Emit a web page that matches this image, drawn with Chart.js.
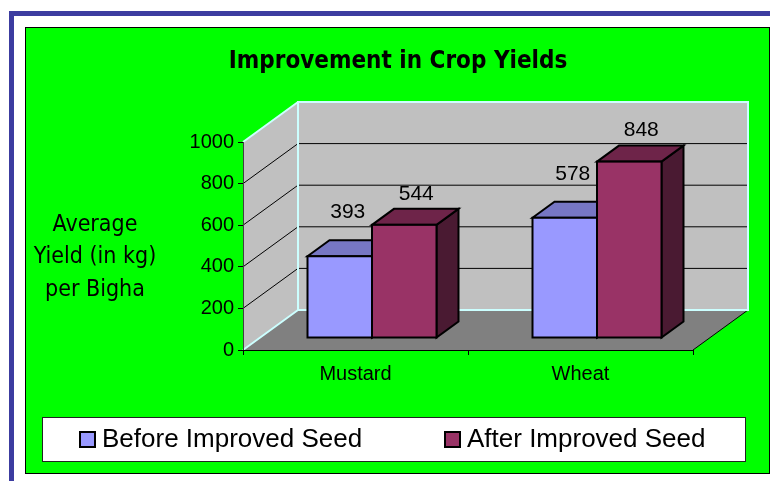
<!DOCTYPE html>
<html><head><meta charset="utf-8">
<script src="https://cdn.jsdelivr.net/npm/chart.js@4/dist/chart.umd.min.js"></script>
<style>html,body{margin:0;padding:0;background:#fff;overflow:hidden}canvas{display:block}</style>
</head><body>
<canvas id="c" width="770" height="481"></canvas>
<script>
// ---- data ----
const categories = ['Mustard', 'Wheat'];
const beforeValues = [393, 578];
const afterValues = [544, 848];
const seriesNames = ['Before Improved Seed', 'After Improved Seed'];
const yTicks = [0, 200, 400, 600, 800, 1000];
const chartTitle = 'Improvement in Crop Yields';
const yAxisTitle = ['Average', 'Yield (in kg)', 'per Bigha'];

// ---- styling ----
const DEPTH_X = 55, DEPTH_Y = -40;      // wall depth
const BAR_OFF_X = 16.5, BAR_OFF_Y = -12; // bar front face inset
const BAR_DX = 22, BAR_DY = -16;         // bar depth
const TAHOMA = 'Tahoma, "DejaVu Sans Condensed", "DejaVu Sans", sans-serif';
const ARIAL = 'Arial, "Liberation Sans", sans-serif';

const threeD = {
  id: 'threeD',
  beforeDraw(chart) {
    const ctx = chart.ctx;
    ctx.save();
    ctx.fillStyle = '#ffffff';
    ctx.fillRect(0, 0, chart.width, chart.height);
    // blue page frame
    ctx.fillStyle = '#3c3ca0';
    ctx.fillRect(9, 11, 761, 5);
    ctx.fillRect(9, 11, 5, 470);
    // green chart area box
    ctx.fillStyle = '#00ff00';
    ctx.fillRect(25, 27, 745, 446);
    ctx.strokeStyle = '#000';
    ctx.lineWidth = 1;
    ctx.strokeRect(25.5, 27.5, 744, 446);
    // legend box
    ctx.fillStyle = '#fff';
    ctx.fillRect(42, 417, 704, 45);
    ctx.strokeStyle = '#222';
    ctx.strokeRect(42.5, 417.5, 703, 44);
    // title
    ctx.fillStyle = '#000';
    ctx.textAlign = 'center';
    ctx.textBaseline = 'middle';
    ctx.font = 'bold 24px ' + TAHOMA;
    ctx.fillText(chartTitle, 398, 62);
    // y axis title
    ctx.font = '23px ' + TAHOMA;
    yAxisTitle.forEach((t, i) => ctx.fillText(t, 95, 225 + i * 32.5));

    // 3D walls
    const ys = chart.scales.y, a = chart.chartArea;
    const L = a.left, R = a.right;
    const T = ys.getPixelForValue(yTicks[yTicks.length - 1]);
    const B = ys.getPixelForValue(yTicks[0]);
    const dx = DEPTH_X, dy = DEPTH_Y;
    // floor
    ctx.fillStyle = '#808080';
    ctx.beginPath();
    ctx.moveTo(L, B); ctx.lineTo(L + dx, B + dy); ctx.lineTo(R + dx, B + dy); ctx.lineTo(R, B);
    ctx.closePath(); ctx.fill();
    // left wall
    ctx.fillStyle = '#c0c0c0';
    ctx.beginPath();
    ctx.moveTo(L, B); ctx.lineTo(L, T); ctx.lineTo(L + dx, T + dy); ctx.lineTo(L + dx, B + dy);
    ctx.closePath(); ctx.fill();
    // back wall
    ctx.fillRect(L + dx, T + dy, R - L, B - T);
    // gridlines
    ctx.strokeStyle = '#000';
    ctx.lineWidth = 1;
    yTicks.slice(1, -1).forEach(v => {
      const py = ys.getPixelForValue(v);
      ctx.beginPath();
      ctx.moveTo(L, py); ctx.lineTo(L + dx, py + dy); ctx.lineTo(R + dx, py + dy);
      ctx.stroke();
    });
    // floor front-right edge
    ctx.beginPath();
    ctx.moveTo(R, B); ctx.lineTo(R + dx, B + dy); ctx.stroke();
    // cyan wall edges
    ctx.strokeStyle = '#ccffff';
    ctx.lineWidth = 2;
    ctx.beginPath();
    ctx.moveTo(L, T); ctx.lineTo(L + dx, T + dy);
    ctx.moveTo(L, B); ctx.lineTo(L + dx, B + dy);
    ctx.stroke();
    ctx.strokeRect(L + dx, T + dy, R - L, B - T);
    ctx.restore();
  },
  beforeDatasetsDraw(chart) {
    const ctx = chart.ctx;
    ctx.save();
    ctx.lineWidth = 2;
    ctx.strokeStyle = '#000';
    ctx.lineJoin = 'miter';
    const metas = chart.data.datasets.map((d, i) => chart.getDatasetMeta(i));
    const labels = [];
    categories.forEach((c, j) => {
      metas.forEach((meta, i) => {
        const ds = chart.data.datasets[i];
        const el = meta.data[j];
        const p = el.getProps(['x', 'y', 'base', 'width'], true);
        const x0 = p.x - p.width / 2 + BAR_OFF_X, x1 = p.x + p.width / 2 + BAR_OFF_X;
        const yt = p.y + BAR_OFF_Y, yb = p.base + BAR_OFF_Y;
        // side
        ctx.fillStyle = ds.sideColor;
        ctx.beginPath();
        ctx.moveTo(x1, yt); ctx.lineTo(x1 + BAR_DX, yt + BAR_DY); ctx.lineTo(x1 + BAR_DX, yb + BAR_DY); ctx.lineTo(x1, yb);
        ctx.closePath(); ctx.fill(); ctx.stroke();
        // top
        ctx.fillStyle = ds.topColor;
        ctx.beginPath();
        ctx.moveTo(x0, yt); ctx.lineTo(x0 + BAR_DX, yt + BAR_DY); ctx.lineTo(x1 + BAR_DX, yt + BAR_DY); ctx.lineTo(x1, yt);
        ctx.closePath(); ctx.fill(); ctx.stroke();
        // front
        ctx.fillStyle = ds.backgroundColor;
        ctx.fillRect(x0, yt, x1 - x0, yb - yt);
        ctx.strokeRect(x0, yt, x1 - x0, yb - yt);
        labels.push({ text: String(ds.data[j]), x: (x0 + x1) / 2 + ds.labelDX, y: yt + ds.labelDY });
      });
    });
    ctx.fillStyle = '#000';
    ctx.font = '21px ' + ARIAL;
    ctx.textAlign = 'center';
    ctx.textBaseline = 'middle';
    labels.forEach(l => ctx.fillText(l.text, l.x, l.y));
    ctx.restore();
    return false;
  },
  afterDraw(chart) {
    const ctx = chart.ctx;
    ctx.save();
    const xs = [80, 445];
    ctx.font = '26px ' + ARIAL;
    ctx.textBaseline = 'middle';
    ctx.textAlign = 'left';
    chart.data.datasets.forEach((ds, i) => {
      ctx.fillStyle = ds.backgroundColor;
      ctx.fillRect(xs[i], 432, 15, 15);
      ctx.strokeStyle = '#000';
      ctx.lineWidth = 2;
      ctx.strokeRect(xs[i], 432, 15, 15);
      ctx.fillStyle = '#000';
      ctx.fillText(ds.label, xs[i] + 22, 440);
    });
    ctx.restore();
  }
};

new Chart(document.getElementById('c'), {
  type: 'bar',
  data: {
    labels: categories,
    datasets: [
      { label: seriesNames[0], data: beforeValues, backgroundColor: '#9999ff', topColor: '#7777c4', sideColor: '#4c4c80', labelDX: 8, labelDY: -44 },
      { label: seriesNames[1], data: afterValues, backgroundColor: '#993366', topColor: '#6e2449', sideColor: '#4a1a32', labelDX: 12, labelDY: -31 }
    ]
  },
  options: {
    responsive: false,
    animation: false,
    devicePixelRatio: 1,
    layout: { padding: { left: 25, right: 77, top: 142, bottom: 8 } },
    datasets: { bar: { categoryPercentage: 0.5733, barPercentage: 1 } },
    plugins: { legend: { display: false }, title: { display: false }, tooltip: { enabled: false } },
    scales: {
      y: {
        min: yTicks[0], max: yTicks[yTicks.length - 1],
        afterBuildTicks: s => { s.ticks = yTicks.map(v => ({ value: v })); },
        afterFit: s => { s.width = 218; },
        ticks: { font: { family: ARIAL, size: 20 }, color: '#000', padding: 4, callback: v => String(v) },
        grid: { drawOnChartArea: false, tickLength: 5, color: '#000' },
        border: { color: '#404040', width: 1 }
      },
      x: {
        afterFit: s => { s.height = 123; },
        ticks: { font: { family: ARIAL, size: 20 }, color: '#000', padding: 7 },
        grid: { offset: true, drawOnChartArea: false, tickLength: 5, color: '#000' },
        border: { color: '#000', width: 1 }
      }
    }
  },
  plugins: [threeD]
});
</script>
</body></html>
